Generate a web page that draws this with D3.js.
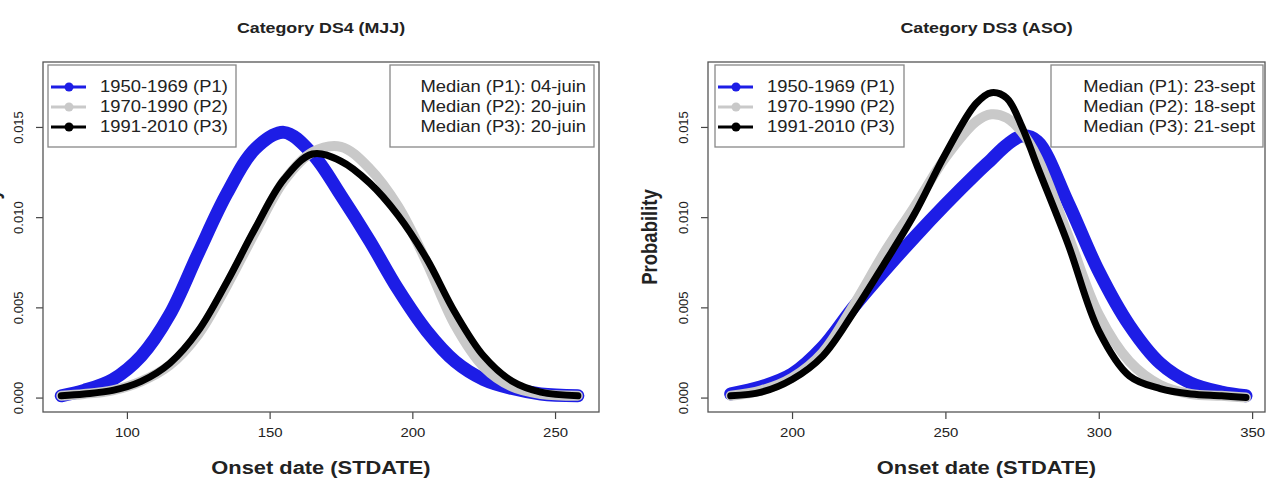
<!DOCTYPE html>
<html>
<head>
<meta charset="utf-8">
<script src="https://cdn.jsdelivr.net/npm/d3@7"></script>
<style>
  body { margin: 0; background: #fff; }
  text { font-family: "Liberation Sans", Arial, sans-serif; fill: #222; }
</style>
</head>
<body>
<div id="chart"></div>
<script>
// ---- data ----
// Category DS4 (MJJ)
const mjjDays = [77, 85, 95, 105, 115, 125, 135, 145, 155, 165, 175, 185, 195, 205, 215, 225, 235, 245, 258];
const mjjP1 = [0.0001, 0.0004, 0.0010, 0.0023, 0.0046, 0.0080, 0.0113, 0.0138, 0.0147, 0.0135, 0.0112, 0.0087, 0.0060, 0.0037, 0.0020, 0.0010, 0.0005, 0.0002, 0.0001];
const mjjP2 = [0.0001, 0.0002, 0.0004, 0.0009, 0.0018, 0.0035, 0.0062, 0.0092, 0.0120, 0.0136, 0.0139, 0.0127, 0.0106, 0.0075, 0.0040, 0.0017, 0.0006, 0.0002, 0.0001];
const mjjP3 = [0.0001, 0.0002, 0.0004, 0.0009, 0.0019, 0.0037, 0.0064, 0.0094, 0.0121, 0.0135, 0.0131, 0.0119, 0.0101, 0.0077, 0.0047, 0.0023, 0.0009, 0.0003, 0.0001];

// Category DS3 (ASO)
const asoDays = [180, 190, 200, 210, 220, 230, 240, 250, 260, 265, 270, 275, 280, 290, 300, 310, 320, 330, 340, 348];
const asoP1 = [0.0002, 0.0006, 0.0013, 0.0028, 0.0050, 0.0070, 0.0089, 0.0107, 0.0124, 0.0132, 0.0140, 0.0145, 0.0142, 0.0108, 0.0070, 0.0040, 0.0019, 0.0008, 0.0003, 0.0001];
const asoP2 = [0.0001, 0.0004, 0.0011, 0.0025, 0.0051, 0.0080, 0.0106, 0.0133, 0.0153, 0.0157, 0.0155, 0.0147, 0.0133, 0.0090, 0.0046, 0.0020, 0.0007, 0.0002, 0.0001, 0.0000];
const asoP3 = [0.0001, 0.0003, 0.0010, 0.0023, 0.0047, 0.0074, 0.0102, 0.0135, 0.0163, 0.0169, 0.0166, 0.0150, 0.0128, 0.0085, 0.0037, 0.0012, 0.0005, 0.0002, 0.0001, 0.0000];

const periodLabels = ["1950-1969 (P1)", "1970-1990 (P2)", "1991-2010 (P3)"];
const mjjMedians = ["Median (P1): 04-juin", "Median (P2): 20-juin", "Median (P3): 20-juin"];
const asoMedians = ["Median (P1): 23-sept", "Median (P2): 18-sept", "Median (P3): 21-sept"];
const mjjTicks = [100, 150, 200, 250];
const asoTicks = [200, 250, 300, 350];
const yTicks = [0, 0.005, 0.010, 0.015];

// ---- layout ----
const W = 1272, H = 481;
const plotTop = 62, plotBottom = 412;
const sx = 1.15;   // the source image is slightly stretched horizontally
const colors = ["#1d1de6", "#c9c9c9", "#000000"];
const widths = [13, 10, 7];

const panels = [
  { title: "Category DS4 (MJJ)", days: mjjDays, series: [mjjP1, mjjP2, mjjP3], ticks: mjjTicks,
    medians: mjjMedians, xDomain: [70.6, 265.4], left: 43, right: 599,
    legendX0: 48, legendX1: 236, medianX0: 390, medianX1: 594, ylabX: -1 },
  { title: "Category DS3 (ASO)", days: asoDays, series: [asoP1, asoP2, asoP3], ticks: asoTicks,
    medians: asoMedians, xDomain: [172.6, 354.2], left: 708, right: 1265,
    legendX0: 715, legendX1: 904, medianX0: 1051, medianX1: 1263, ylabX: 657 }
];

const svg = d3.select("#chart").append("svg")
  .attr("width", W)
  .attr("height", H);

const yScale = d3.scaleLinear()
  .domain([-0.0008, 0.0186])
  .range([plotBottom, plotTop]);

function stretchedText(g, x, y, str) {
  return g.append("text")
    .attr("transform", "translate(" + x + "," + y + ") scale(" + sx + ",1)")
    .text(str);
}

panels.forEach(function(p) {
  const g = svg.append("g");
  const xScale = d3.scaleLinear().domain(p.xDomain).range([p.left, p.right]);
  const midX = (p.left + p.right) / 2;

  // title and axis labels
  stretchedText(g, midX, 33, p.title)
    .attr("text-anchor", "middle")
    .attr("font-size", 15.5)
    .attr("font-weight", "bold");

  stretchedText(g, midX, 474, "Onset date (STDATE)")
    .attr("text-anchor", "middle")
    .attr("font-size", 19)
    .attr("font-weight", "bold");

  g.append("text")
    .attr("transform", "translate(" + p.ylabX + "," + ((plotTop + plotBottom) / 2) + ") rotate(-90) scale(1," + sx + ")")
    .attr("text-anchor", "middle")
    .attr("font-size", 18.5)
    .attr("font-weight", "bold")
    .text("Probability");

  // density curves, drawn P1 first so P3 sits on top
  const line = d3.line()
    .x(function(d) { return xScale(d.x); })
    .y(function(d) { return yScale(d.y); })
    .curve(d3.curveCatmullRom.alpha(0.5));

  p.series.forEach(function(vals, i) {
    const pts = p.days.map(function(day, j) { return { x: day, y: vals[j] }; });
    g.append("path")
      .datum(pts)
      .attr("fill", "none")
      .attr("stroke", colors[i])
      .attr("stroke-width", widths[i])
      .attr("stroke-linecap", "round")
      .attr("stroke-linejoin", "round")
      .attr("d", line);
  });

  // x axis
  const xAxis = d3.axisBottom(xScale)
    .tickValues(p.ticks)
    .tickSize(7)
    .tickSizeOuter(0)
    .tickPadding(9);
  const xg = g.append("g")
    .attr("transform", "translate(0," + plotBottom + ")")
    .call(xAxis);
  xg.select(".domain").remove();
  xg.selectAll(".tick line").attr("stroke", "#444").attr("stroke-width", 1.2);
  xg.selectAll(".tick text")
    .attr("font-family", null)
    .attr("font-size", 13)
    .attr("fill", "#444")
    .attr("transform", "scale(" + sx + ",1)");

  // y axis, labels turned like R's las = 0
  const yAxis = d3.axisLeft(yScale)
    .tickValues(yTicks)
    .tickSize(7)
    .tickSizeOuter(0)
    .tickFormat(d3.format(".3f"));
  const yg = g.append("g")
    .attr("transform", "translate(" + p.left + ",0)")
    .call(yAxis);
  yg.select(".domain").remove();
  yg.selectAll(".tick line").attr("stroke", "#444").attr("stroke-width", 1.2);
  yg.selectAll(".tick text")
    .attr("font-family", null)
    .attr("font-size", 13)
    .attr("fill", "#444")
    .attr("text-anchor", "middle")
    .attr("dy", null)
    .attr("x", 0)
    .attr("y", -20)
    .attr("transform", "rotate(-90)");

  // plot frame
  g.append("rect")
    .attr("x", p.left)
    .attr("y", plotTop)
    .attr("width", p.right - p.left)
    .attr("height", plotBottom - plotTop)
    .attr("fill", "none")
    .attr("stroke", "#555")
    .attr("stroke-width", 1.3);

  // period legend
  const rowY = [87, 107, 127];
  g.append("rect")
    .attr("x", p.legendX0).attr("y", 65)
    .attr("width", p.legendX1 - p.legendX0).attr("height", 82)
    .attr("fill", "#fff").attr("stroke", "#888").attr("stroke-width", 1.3);
  periodLabels.forEach(function(lbl, i) {
    g.append("line")
      .attr("x1", p.legendX0 + 3).attr("x2", p.legendX0 + 38)
      .attr("y1", rowY[i]).attr("y2", rowY[i])
      .attr("stroke", colors[i]).attr("stroke-width", 3);
    g.append("circle")
      .attr("cx", p.legendX0 + 21).attr("cy", rowY[i]).attr("r", 4.5)
      .attr("fill", colors[i]);
    stretchedText(g, p.legendX0 + 52, rowY[i] + 5, lbl)
      .attr("font-size", 16);
  });

  // median legend
  g.append("rect")
    .attr("x", p.medianX0).attr("y", 65)
    .attr("width", p.medianX1 - p.medianX0).attr("height", 82)
    .attr("fill", "#fff").attr("stroke", "#888").attr("stroke-width", 1.3);
  p.medians.forEach(function(lbl, i) {
    stretchedText(g, p.medianX1 - 8, rowY[i] + 5, lbl)
      .attr("font-size", 16)
      .attr("text-anchor", "end");
  });
});
</script>
</body>
</html>
